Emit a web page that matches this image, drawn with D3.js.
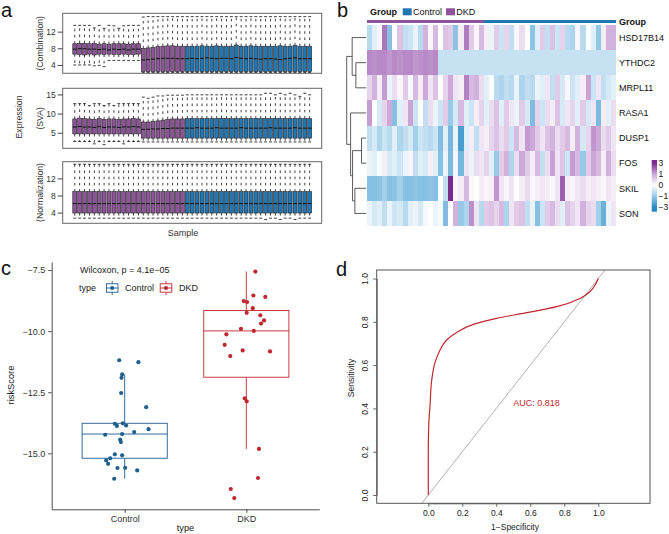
<!DOCTYPE html>
<html>
<head>
<meta charset="utf-8">
<script src="https://cdn.jsdelivr.net/npm/d3@7/dist/d3.min.js"></script>
<style>
html,body{margin:0;padding:0;background:#fff;}
svg{display:block;font-family:"Liberation Sans",Arial,Helvetica,sans-serif;}
</style>
</head>
<body>
<svg id="fig" width="669" height="534"></svg>
<script>
// ====================== DATA ======================
// ---- Panel a: per-sample boxplot statistics (23 DKD samples, then 26 Control samples)
const nDKD = 23, nControl = 26;

const combUpper = [13.5,13.5,13.5,13.5,12.9,13.5,12.8,13.5,13.4,12.8,13.4,13.5,13.5,13.5,
  15.5,15.6,15.6,15.6,15.6,15.6,15.6,15.6,15.6,
  15.6,15.6,15.6,15.6,15.6,15.6,15.6,15.6,15.6,15.6,15.6,15.6,15.6,
  15.6,15.6,15.6,15.6,15.6,15.6,15.6,15.6,15.6,15.6,15.6,15.6,15.6];
const combQ3 = [9.1,9.2,9.2,9.1,9.2,9.0,9.1,9.0,9.1,9.1,9.1,9.0,9.1,9.1,
  8.0,8.1,8.2,8.4,8.5,8.6,8.6,8.5,8.5,
  8.5,8.5,8.5,8.6,8.5,8.5,8.6,8.5,8.5,8.5,8.8,8.5,8.5,
  8.6,8.5,8.5,8.5,8.5,8.5,8.6,8.5,8.5,8.7,8.5,8.5,8.5];
const combMed = [7.8,7.9,7.9,7.8,7.8,7.7,7.8,7.6,7.8,7.7,7.8,7.6,7.8,7.8,
  5.2,5.3,5.4,5.5,5.6,5.6,5.6,5.5,5.5,
  5.5,5.6,5.5,5.6,5.7,5.6,5.5,5.6,5.6,5.5,5.8,5.6,5.5,
  5.6,5.5,5.4,5.5,5.5,5.4,5.3,5.5,5.6,5.7,5.5,5.5,5.5];
const combQ1 = [6.6,6.5,6.4,6.6,6.4,6.6,6.5,6.6,6.5,6.5,6.6,6.5,6.5,6.6,
  2.4,2.4,2.4,2.4,2.4,2.4,2.4,2.4,2.4,
  2.4,2.4,2.4,2.4,2.4,2.4,2.4,2.4,2.4,2.4,2.4,2.4,2.4,
  2.4,2.4,2.4,2.4,2.4,2.4,2.4,2.4,2.4,2.4,2.4,2.4,2.4];
const combLower = [4.0,4.0,4.0,4.0,3.8,3.9,3.6,5.1,5.1,5.1,5.1,5.1,5.1,5.1,
  2.2,2.2,2.2,2.2,2.2,2.2,2.2,2.2,2.2,
  2.2,2.2,2.2,2.2,2.2,2.2,2.2,2.2,2.2,2.2,2.2,2.2,2.2,
  2.2,2.2,2.2,2.2,2.2,2.2,2.2,2.2,2.2,2.2,2.2,2.2,2.2];

const svaUpper = [12.6,12.6,12.6,12.1,12.6,12.6,12.1,12.6,12.1,12.6,12.6,12.6,12.6,12.6,
  14.3,14.0,14.3,14.6,14.6,14.8,14.8,14.8,14.8,
  14.9,14.9,14.9,14.9,14.9,14.9,14.9,14.9,14.9,14.9,14.9,14.9,14.9,
  14.9,14.9,14.9,15.3,15.3,14.9,15.3,14.9,15.3,14.9,14.5,15.3,14.9];
const svaQ3 = [8.6,8.8,8.7,8.6,8.5,8.7,8.5,8.6,8.6,8.5,8.6,8.6,8.7,8.6,
  7.8,7.8,7.9,8.1,8.3,8.5,8.6,8.6,8.6,
  8.7,8.7,8.7,8.7,8.7,8.7,8.7,8.8,8.7,8.7,8.7,8.7,8.7,
  8.7,8.7,8.7,8.7,8.7,8.8,8.7,8.7,8.7,8.7,8.8,8.7,8.7];
const svaMed = [6.5,6.6,6.5,6.5,6.4,6.6,6.4,6.5,6.5,6.4,6.5,6.5,6.6,6.5,
  5.9,5.9,6.0,6.0,6.1,6.1,6.2,6.2,6.2,
  6.2,6.2,6.3,6.2,6.2,6.2,6.3,6.2,6.2,6.2,6.2,6.3,6.2,
  6.2,6.2,6.2,6.2,6.3,6.2,6.2,6.2,6.2,6.3,6.2,6.2,6.2];
const svaQ1 = [4.7,4.7,4.7,4.7,4.7,4.7,4.7,4.7,4.7,4.7,4.7,4.7,4.7,4.7,
  3.6,3.6,3.6,3.6,3.6,3.6,3.6,3.6,3.6,
  3.6,3.6,3.6,3.6,3.6,3.6,3.6,3.6,3.6,3.6,3.6,3.6,3.6,
  3.6,3.6,3.6,3.6,3.6,3.6,3.6,3.6,3.6,3.6,3.6,3.6,3.6];
const svaLower = [2.7,2.7,2.7,2.7,2.1,2.7,1.9,2.7,2.7,2.7,2.1,2.7,2.7,2.7,
  2.6,2.6,2.6,2.6,2.6,2.6,2.6,2.6,2.6,
  2.6,2.6,2.6,2.6,2.6,2.6,2.6,2.6,2.6,2.6,2.6,2.6,2.6,
  2.6,2.6,2.6,2.6,2.6,2.6,2.6,2.6,2.6,2.6,2.6,2.6,2.6];

const normUpper = [15.3,15.3,15.3,15.3,15.3,15.3,15.3,15.3,15.3,15.3,15.3,15.3,15.3,15.3,
  15.3,15.3,15.3,15.3,15.3,15.3,15.3,15.3,15.3,
  15.3,15.3,15.3,15.3,15.3,15.3,15.3,15.3,15.3,15.3,15.3,15.3,15.3,
  15.3,15.3,15.3,15.3,15.3,15.3,15.3,15.3,15.3,15.3,15.3,15.3,15.3];
const normQ3 = [8.9,8.9,8.9,8.9,8.9,8.9,8.9,8.9,8.9,8.9,8.9,8.9,8.9,8.9,
  8.9,8.9,8.9,8.9,8.9,8.9,8.9,8.9,8.9,
  8.9,8.9,8.9,8.9,8.9,8.9,8.9,8.9,8.9,8.9,8.9,8.9,8.9,
  8.9,8.9,8.9,8.9,8.9,8.9,8.9,8.9,8.9,8.9,8.9,8.9,8.9];
const normMed = [6.1,6.1,6.1,6.1,6.1,6.1,6.1,6.1,6.1,6.1,6.1,6.1,6.1,6.1,
  6.1,6.1,6.1,6.1,6.1,6.1,6.1,6.1,6.1,
  6.1,6.1,6.1,6.1,6.1,6.1,6.1,6.1,6.1,6.1,6.1,6.1,6.1,
  6.1,6.1,6.1,6.1,6.1,6.1,6.1,6.1,6.1,6.1,6.1,6.1,6.1];
const normQ1 = [3.9,3.9,3.9,3.9,3.9,3.9,3.9,3.9,3.9,3.9,3.9,3.9,3.9,3.9,
  3.9,3.9,3.9,3.9,3.9,3.9,3.9,3.9,3.9,
  3.9,3.9,3.9,3.9,3.9,3.9,3.9,3.9,3.9,3.9,3.9,3.9,3.9,
  3.9,3.9,3.9,3.9,3.9,3.9,3.9,3.9,3.9,3.9,3.9,3.9,3.9];
const normLower = [2.7,2.7,2.7,2.7,2.7,2.7,2.7,2.7,2.7,2.7,2.7,2.7,2.7,2.7,
  2.7,2.7,2.7,2.7,2.7,2.7,2.7,2.7,2.7,
  2.7,2.7,2.7,2.7,2.7,2.7,2.7,2.7,2.7,2.7,2.7,2.7,2.7,
  2.7,2.7,2.7,2.4,2.7,2.7,2.4,2.7,2.7,2.4,2.7,2.7,2.7];

// ---- Panel b: heatmap (z-scores), 23 DKD columns then 26 Control columns
const genes = ["HSD17B14","YTHDC2","MRPL11","RASA1","DUSP1","FOS","SKIL","SON"];
const hHSD17B14 = [-0.7,-0.3,0.1,1.8,-1.3,0.0,0.7,-0.6,-0.5,-0.2,-0.7,0.9,0.1,0.8,0.0,0.7,0.6,-1.2,0.2,1.7,0.6,0.1,0.8,
  0.2,-0.2,0.6,-0.5,0.5,-0.6,0.1,0.4,0.0,-1.2,-0.3,0.6,-0.6,0.7,-0.5,0.5,-0.7,-0.8,0.1,-0.7,0.0,-0.3,-1.1,0.2,0.9,0.9];
const hYTHDC2 = [1.5,1.4,1.5,1.5,1.3,1.5,1.4,1.5,1.5,1.3,1.4,1.5,1.4,1.5,-0.55,-0.55,-0.55,-0.55,-0.55,-0.55,-0.55,-0.55,-0.55,
  -0.55,-0.55,-0.55,-0.55,-0.55,-0.55,-0.55,-0.55,-0.55,-0.55,-0.55,-0.55,-0.55,-0.55,-0.55,-0.55,-0.55,-0.55,-0.55,-0.55,-0.55,-0.55,-0.55,-0.55,-0.55,-0.55];
const hMRPL11 = [0.5,0.9,0.2,1.2,-0.2,0.4,0.1,0.6,-0.1,0.8,0.2,1.0,0.3,0.7,0.0,0.5,1.0,0.3,0.2,1.6,0.8,0.9,0.4,
  -0.3,0.0,-0.7,-0.8,-0.6,-0.7,-0.2,-0.8,-0.6,-0.7,-0.2,-0.3,0.3,-0.6,0.6,-0.4,0.1,-0.5,-0.3,0.2,1.1,-0.5,0.3,-0.6,-0.4,-0.3];
const hRASA1 = [1.2,0.0,-0.4,0.5,1.0,-1.3,-0.3,0.3,1.1,-0.5,0.0,-0.6,0.4,-0.2,-0.5,0.6,-1.0,-0.4,0.8,-0.3,-0.5,0.2,0.5,
  -0.3,0.4,0.7,-0.3,0.6,0.3,-0.2,0.6,-0.4,-1.4,0.5,-0.5,0.4,0.2,0.7,-0.4,0.3,0.5,-0.3,0.6,-0.4,0.3,-1.5,0.2,-0.3,0.4];
const hDUSP1 = [-0.6,-0.4,-0.8,-0.5,-0.7,-0.3,-0.8,-0.6,-0.4,-0.9,-0.5,-0.6,-0.7,-0.5,-1.4,-0.3,-1.6,-0.2,-2.4,-0.3,0.2,-0.6,0.3,
  0.2,0.5,0.7,0.4,0.6,-0.5,0.8,0.3,1.2,1.0,0.6,0.3,0.7,0.9,0.4,0.6,0.8,0.2,0.9,-0.4,0.5,1.3,1.0,0.4,0.6,0.3];
const hFOS = [-0.2,-0.3,-0.1,0.2,-0.4,-0.3,-0.5,-0.2,0.1,-0.6,-0.3,-0.4,0.2,-0.3,-1.3,-0.2,-1.5,0.1,-1.6,0.3,-0.2,0.4,0.3,
  0.5,-0.3,-1.0,0.6,0.9,-0.8,0.4,1.0,0.6,0.2,0.8,-0.6,0.4,1.1,0.3,0.7,-0.5,1.2,0.8,-1.0,0.6,1.0,0.8,0.2,0.9,0.4];
const hSKIL = [-1.3,-1.3,-1.2,-0.9,-1.3,-1.2,-0.9,-1.3,-1.3,-1.2,-1.3,-1.3,-1.2,-1.3,0.0,-0.6,3.0,0.1,0.2,0.8,0.1,0.0,0.2,
  0.1,0.2,1.3,0.3,0.1,0.3,0.0,0.2,0.4,0.1,0.2,0.3,0.2,0.1,0.3,2.2,0.2,0.1,0.3,0.4,0.2,0.3,0.2,0.1,0.3,0.2];
const hSON = [-0.2,-0.4,-0.3,-0.6,-0.2,-0.5,-0.4,-0.7,-0.3,-0.2,-0.4,-0.1,0.0,-0.2,-0.1,-1.4,0.0,0.9,-1.0,-0.8,1.4,0.3,-0.7,
  0.6,0.7,0.5,0.8,-0.8,0.3,0.6,0.7,-0.6,-0.2,-1.3,-0.5,0.6,0.8,0.4,-0.3,0.7,0.5,0.3,0.9,0.5,0.4,-0.9,-1.8,-0.2,0.3];
const heatRows = [hHSD17B14,hYTHDC2,hMRPL11,hRASA1,hDUSP1,hFOS,hSKIL,hSON];
const heatLegendTicks = [3,1,0,-1,-3];
// row dendrogram (merge heights, root = 10)
const rowDendro = {h:10, children:[
  {h:7.2, children:[{leaf:"HSD17B14"},{h:5.3, children:[{leaf:"YTHDC2"},{leaf:"MRPL11"}]}]},
  {h:8.0, children:[{leaf:"RASA1"},{h:7.0, children:[
      {h:2.4, children:[{leaf:"DUSP1"},{leaf:"FOS"}]},
      {h:5.8, children:[{leaf:"SKIL"},{leaf:"SON"}]}]}]}]};

// ---- Panel c: riskScore by type (with jitter offsets, in category units)
const riskControl = [-11.19,-11.27,-11.77,-11.91,-12.53,-13.11,-13.79,-13.88,-13.77,-13.86,-14.24,-14.21,-14.13,
  -14.01,-14.44,-14.54,-15.04,-15.08,-15.20,-15.29,-15.43,-15.60,-15.59,-15.70,-16.04];
const jitterControl = [-0.045,0.113,-0.021,-0.026,-0.029,0.177,-0.081,-0.064,-0.015,0.012,-0.160,-0.021,0.078,
  0.196,-0.037,-0.031,-0.081,-0.021,-0.119,-0.152,-0.136,-0.059,0.004,0.103,-0.086];
const riskDKD = [-7.56,-8.54,-8.60,-8.77,-8.81,-9.06,-9.25,-9.35,-9.56,-9.69,-9.91,-9.99,-10.13,-10.56,-10.79,
  -11.02,-10.83,-12.75,-12.87,-14.82,-16.01,-16.46,-16.83];
const jitterDKD = [0.074,0.058,0.156,-0.021,0.006,0.053,0.003,0.115,0.146,0.121,-0.044,0.061,-0.164,-0.178,-0.030,
  -0.132,0.195,-0.013,0.003,0.104,0.096,-0.128,-0.099];
const riskTicks = [-7.5,-10.0,-12.5,-15.0];
const pLabel = "Wilcoxon, p = 4.1e\u221205";

// ---- Panel d: smoothed ROC curve
const rocFPR = [0,0,0.003,0.010,0.020,0.039,0.069,0.108,0.167,0.265,0.402,0.579,0.755,0.892,0.951,0.985,1];
const rocTPR = [0,0.20,0.33,0.41,0.53,0.61,0.67,0.716,0.751,0.788,0.816,0.842,0.870,0.908,0.939,0.975,1];
const rocTicks = [0,0.2,0.4,0.6,0.8,1.0];
const aucLabel = "AUC: 0.818";

// ====================== DRAWING ======================
const svg = d3.select("#fig");
const PURPLE = "#8E5499", BLUE = "#2176B4";
const defs = svg.append("defs");

// panel letters
[["a",1,17],["b",337,17],["c",1,275],["d",336,276]].forEach(([t,x,y]) =>
  svg.append("text").attr("x",x).attr("y",y).attr("font-size",20).attr("fill","#111").text(t));

// ---------- Panel a ----------
const nS = nDKD + nControl;
const xA = d3.scaleLinear().domain([0.5 - 0.04*nS, nS + 0.5 + 0.04*nS]).range([62.7, 321.7]);
const unit = xA(1) - xA(0);
function boxPanel(id, y0, y1, domain, ticks, title, up, q3, med, q1, lo) {
  const y = d3.scaleLinear().domain(domain).range([y1, y0]);
  const g = svg.append("g");
  defs.append("clipPath").attr("id", id).append("rect")
    .attr("x", xA.range()[0]).attr("y", y0).attr("width", xA.range()[1]-xA.range()[0]).attr("height", y1-y0);
  const data = d3.range(nS).map(i => ({i, up:up[i], q3:q3[i], med:med[i], q1:q1[i], lo:lo[i], grp: i < nDKD ? "DKD":"Control"}));
  const gb = g.append("g").attr("clip-path", `url(#${id})`);
  const bw = 0.8*unit, cw = 0.6*unit;
  const s = gb.selectAll("g.s").data(data).join("g");
  s.append("line").attr("x1", d=>xA(d.i+1)).attr("x2", d=>xA(d.i+1))
    .attr("y1", d=>y(d.q3)).attr("y2", d=>y(d.up)).attr("stroke","#111").attr("stroke-width",0.8).attr("stroke-dasharray","2.6,3.6");
  s.append("line").attr("x1", d=>xA(d.i+1)).attr("x2", d=>xA(d.i+1))
    .attr("y1", d=>y(d.q1)).attr("y2", d=>y(d.lo)).attr("stroke","#111").attr("stroke-width",0.8).attr("stroke-dasharray","2.6,3.6");
  s.append("line").attr("x1", d=>xA(d.i+1)-cw/2).attr("x2", d=>xA(d.i+1)+cw/2)
    .attr("y1", d=>y(d.up)).attr("y2", d=>y(d.up)).attr("stroke","#111").attr("stroke-width",0.8);
  s.append("line").attr("x1", d=>xA(d.i+1)-cw/2).attr("x2", d=>xA(d.i+1)+cw/2)
    .attr("y1", d=>y(d.lo)).attr("y2", d=>y(d.lo)).attr("stroke","#111").attr("stroke-width",0.8);
  s.append("rect").attr("x", d=>xA(d.i+1)-bw/2).attr("width", bw)
    .attr("y", d=>y(d.q3)).attr("height", d=>y(d.q1)-y(d.q3))
    .attr("fill", d=> d.grp==="DKD" ? PURPLE : BLUE).attr("stroke","#222").attr("stroke-width",0.6);
  s.append("line").attr("x1", d=>xA(d.i+1)-bw/2).attr("x2", d=>xA(d.i+1)+bw/2)
    .attr("y1", d=>y(d.med)).attr("y2", d=>y(d.med)).attr("stroke","#111").attr("stroke-width",1);
  g.append("rect").attr("x", xA.range()[0]).attr("y", y0).attr("width", xA.range()[1]-xA.range()[0]).attr("height", y1-y0)
    .attr("fill","none").attr("stroke","#666").attr("stroke-width",1);
  const ax = g.append("g").attr("transform", `translate(${xA.range()[0]},0)`)
    .call(d3.axisLeft(y).tickValues(ticks).tickSize(5).tickPadding(2).tickSizeOuter(0));
  ax.select(".domain").remove();
  ax.selectAll("line").attr("stroke","#444");
  ax.selectAll("text").attr("font-size",8.5).attr("fill","#333").attr("font-family",null);
  g.append("text").attr("transform", `translate(42.5,${(y0+y1)/2}) rotate(-90)`)
    .attr("text-anchor","middle").attr("font-size",8.7).attr("fill","#333").text(title);
}
boxPanel("clipA1", 13.3, 73.3, [2.0, 16.4], [4,8,12], "(Combination)", combUpper, combQ3, combMed, combQ1, combLower);
boxPanel("clipA2", 88.3, 148.3, [0.94, 16.6], [5,10,15], "(SVA)", svaUpper, svaQ3, svaMed, svaQ1, svaLower);
boxPanel("clipA3", 161.7, 223.3, [1.5, 15.9], [4,8,12], "(Normalization)", normUpper, normQ3, normMed, normQ1, normLower);
svg.append("text").attr("transform","translate(21.5,117) rotate(-90)").attr("text-anchor","middle")
  .attr("font-size",8.7).attr("fill","#333").text("Expression");
svg.append("text").attr("x",183).attr("y",236).attr("text-anchor","middle")
  .attr("font-size",9).attr("fill","#333").text("Sample");

// ---------- Panel b ----------
const cols = d3.range(nS);
const xH = d3.scaleBand().domain(cols).range([367, 616]);
const yH = d3.scaleBand().domain(genes).range([25, 226]);
const heatColor = d3.scaleLinear().domain([-3,-1,0,1,3])
  .range(["#2A89C4","#98CAE8","#FFFFFF","#CDA9D9","#7A2A8F"]).clamp(true);
const gH = svg.append("g");
const cells = [];
heatRows.forEach((row, r) => row.forEach((v, c) => cells.push({gene: genes[r], c, v})));
gH.selectAll("rect.cell").data(cells).join("rect")
  .attr("x", d=>xH(d.c)).attr("y", d=>yH(d.gene))
  .attr("width", xH.bandwidth()+0.3).attr("height", yH.bandwidth()+0.3)
  .attr("fill", d=>heatColor(d.v)).attr("shape-rendering","crispEdges");
// group annotation bar
gH.selectAll("rect.ann").data(cols).join("rect")
  .attr("x", d=>xH(d)).attr("y",20).attr("width", xH.bandwidth()+0.3).attr("height",3.3)
  .attr("fill", d=> d < nDKD ? PURPLE : BLUE).attr("shape-rendering","crispEdges");
gH.append("text").attr("x",619).attr("y",25).attr("font-size",9).attr("font-weight","bold").attr("fill","#111").text("Group");
gH.selectAll("text.gene").data(genes).join("text")
  .attr("x",619).attr("y", d=>yH(d)+yH.bandwidth()/2+3.2).attr("font-size",9).attr("fill","#111").text(d=>d);
// top legend
gH.append("text").attr("x",370).attr("y",15).attr("font-size",9).attr("font-weight","bold").attr("fill","#111").text("Group");
[["Control",BLUE,402.7],["DKD",PURPLE,446]].forEach(([t,c,x])=>{
  gH.append("rect").attr("x",x).attr("y",8.3).attr("width",9).attr("height",7).attr("fill",c);
  gH.append("text").attr("x",x+10.3).attr("y",15.3).attr("font-size",9).attr("fill","#111").text(t);
});
// dendrogram
const dx = d3.scaleLinear().domain([0,10]).range([366.2, 346.7]);
function layoutDendro(n){
  if (n.leaf){ n.y = yH(n.leaf)+yH.bandwidth()/2; n.x = dx(0); return; }
  n.children.forEach(layoutDendro);
  n.y = (n.children[0].y + n.children[1].y)/2; n.x = dx(n.h);
}
layoutDendro(rowDendro);
const dSegs = [];
(function collect(n){
  if (n.leaf) return;
  dSegs.push([n.x, n.children[0].y, n.x, n.children[1].y]);
  n.children.forEach(ch => { dSegs.push([n.x, ch.y, ch.x, ch.y]); collect(ch); });
})(rowDendro);
gH.selectAll("line.dendro").data(dSegs).join("line")
  .attr("x1",d=>d[0]).attr("y1",d=>d[1]).attr("x2",d=>d[2]).attr("y2",d=>d[3])
  .attr("stroke","#333").attr("stroke-width",0.8);
// color legend
const lgY = d3.scalePoint().domain(heatLegendTicks).range([163.3, 207.3]);
const grad = defs.append("linearGradient").attr("id","hmgrad").attr("x1",0).attr("y1",0).attr("x2",0).attr("y2",1);
const barTop = 160, barBot = 211.7;
heatLegendTicks.forEach(t => grad.append("stop")
  .attr("offset", (lgY(t)-barTop)/(barBot-barTop)).attr("stop-color", heatColor(t)));
gH.append("rect").attr("x",651.7).attr("y",barTop).attr("width",5.3).attr("height",barBot-barTop).attr("fill","url(#hmgrad)");
gH.selectAll("text.lg").data(heatLegendTicks).join("text")
  .attr("x",658.5).attr("y",d=>lgY(d)+3).attr("font-size",8.5).attr("fill","#111")
  .text(d => d < 0 ? "\u2212" + Math.abs(d) : String(d));

// ---------- Panel c ----------
const CTRL = "#1F5F8E", DKDC = "#C0272D";
const xC = d3.scalePoint().domain(["Control","DKD"]).range([51.7, 319.3]).padding(0.6);
const yC = d3.scaleLinear().domain([-17.29, -7.17]).range([509.3, 262]);
const stepC = xC.step();
const gC = svg.append("g");
function boxStats(vals){
  const s = vals.slice().sort(d3.ascending);
  const q1 = d3.quantileSorted(s,0.25), med = d3.quantileSorted(s,0.5), q3 = d3.quantileSorted(s,0.75);
  const iqr = q3-q1;
  const lo = d3.min(s.filter(v => v >= q1-1.5*iqr)), hi = d3.max(s.filter(v => v <= q3+1.5*iqr));
  return {q1, med, q3, lo, hi};
}
[["Control", riskControl, jitterControl, CTRL], ["DKD", riskDKD, jitterDKD, DKDC]].forEach(([cat, vals, jit, col]) => {
  const st = boxStats(vals), cx = xC(cat), bw = 0.7*stepC;
  gC.append("line").attr("x1",cx).attr("x2",cx).attr("y1",yC(st.q3)).attr("y2",yC(st.hi)).attr("stroke",col).attr("stroke-width",0.9);
  gC.append("line").attr("x1",cx).attr("x2",cx).attr("y1",yC(st.q1)).attr("y2",yC(st.lo)).attr("stroke",col).attr("stroke-width",0.9);
  gC.append("rect").attr("x",cx-bw/2).attr("width",bw).attr("y",yC(st.q3)).attr("height",yC(st.q1)-yC(st.q3))
    .attr("fill","none").attr("stroke",col).attr("stroke-width",0.9);
  gC.append("line").attr("x1",cx-bw/2).attr("x2",cx+bw/2).attr("y1",yC(st.med)).attr("y2",yC(st.med)).attr("stroke",col).attr("stroke-width",0.9);
  gC.selectAll(null).data(vals.map((v,i)=>({v, j:jit[i]}))).join("circle")
    .attr("cx", d=>cx + d.j*stepC).attr("cy", d=>yC(d.v)).attr("r",2.1).attr("fill",col);
});
const axCy = gC.append("g").attr("transform","translate(51.7,0)")
  .call(d3.axisLeft(yC).tickValues(riskTicks).tickFormat(d3.format(".1f")).tickSize(3.5).tickPadding(3).tickSizeOuter(0));
const axCx = gC.append("g").attr("transform","translate(0,509.3)")
  .call(d3.axisBottom(xC).tickSize(3.5).tickPadding(2.5).tickSizeOuter(0));
[axCy, axCx].forEach(a => {
  a.selectAll("path,line").attr("stroke","#222").attr("stroke-width",0.8);
  a.selectAll("text").attr("font-size",9).attr("fill","#333").attr("font-family",null);
});
gC.append("text").attr("transform","translate(14,385) rotate(-90)").attr("text-anchor","middle")
  .attr("font-size",9.3).attr("fill","#222").text("riskScore");
gC.append("text").attr("x",185.5).attr("y",530.5).attr("text-anchor","middle").attr("font-size",9.3).attr("fill","#222").text("type");
gC.append("text").attr("x",80).attr("y",273.3).attr("font-size",9).attr("fill","#222").text(pLabel);
gC.append("text").attr("x",79).attr("y",291).attr("font-size",9).attr("fill","#222").text("type");
[["Control",CTRL,112.2,125],["DKD",DKDC,166,179]].forEach(([t,c,kx,tx])=>{
  const k = gC.append("g");
  k.append("line").attr("x1",kx).attr("x2",kx).attr("y1",281).attr("y2",295).attr("stroke",c).attr("stroke-width",0.9);
  k.append("rect").attr("x",kx-5.8).attr("y",283.8).attr("width",11.6).attr("height",8.4).attr("fill","#fff").attr("stroke",c).attr("stroke-width",0.9);
  k.append("line").attr("x1",kx-5.8).attr("x2",kx+5.8).attr("y1",288).attr("y2",288).attr("stroke",c).attr("stroke-width",0.9);
  k.append("circle").attr("cx",kx).attr("cy",288).attr("r",2.1).attr("fill",c);
  gC.append("text").attr("x",tx).attr("y",291).attr("font-size",9).attr("fill","#222").text(t);
});

// ---------- Panel d ----------
const xD = d3.scaleLinear().domain([0,1]).range([428.3, 598.3]);
const yD = d3.scaleLinear().domain([0,1]).range([495, 278.5]);
const fD = {x0:376.7, x1:650, y0:270, y1:503.3};
const gD = svg.append("g");
defs.append("clipPath").attr("id","clipD").append("rect")
  .attr("x",fD.x0).attr("y",fD.y0).attr("width",fD.x1-fD.x0).attr("height",fD.y1-fD.y0);
const gDc = gD.append("g").attr("clip-path","url(#clipD)");
gDc.append("line").attr("x1",xD(-0.5)).attr("y1",yD(-0.5)).attr("x2",xD(1.5)).attr("y2",yD(1.5))
  .attr("stroke","#A8A8A8").attr("stroke-width",0.9);
const rocPts = rocFPR.map((f,i)=>[f, rocTPR[i]]).reverse();
gDc.append("path").attr("d", d3.line().x(d=>xD(d[0])).y(d=>yD(d[1])).curve(d3.curveMonotoneY)(rocPts))
  .attr("fill","none").attr("stroke","#C0272D").attr("stroke-width",1.2);
gD.append("rect").attr("x",fD.x0).attr("y",fD.y0).attr("width",fD.x1-fD.x0).attr("height",fD.y1-fD.y0)
  .attr("fill","none").attr("stroke","#555").attr("stroke-width",1);
const axDy = gD.append("g").attr("transform",`translate(${fD.x0},0)`)
  .call(d3.axisLeft(yD).tickValues(rocTicks).tickFormat(d3.format(".1f")).tickSize(3.5).tickSizeOuter(0));
axDy.selectAll("text").attr("x",0).attr("dy",null).attr("y",-8.5).attr("transform","rotate(-90)").attr("text-anchor","middle");
const axDx = gD.append("g").attr("transform",`translate(0,${fD.y1})`)
  .call(d3.axisBottom(xD).tickValues(rocTicks).tickFormat(d3.format(".1f")).tickSize(3.5).tickPadding(3).tickSizeOuter(0));
[axDy, axDx].forEach(a => {
  a.selectAll("path,line").attr("stroke","#555").attr("stroke-width",0.9);
  a.selectAll("text").attr("font-size",8.5).attr("fill","#222").attr("font-family",null);
});
gD.append("text").attr("transform","translate(354,378) rotate(-90)").attr("text-anchor","middle")
  .attr("font-size",8.5).attr("fill","#222").text("Sensitivity");
gD.append("text").attr("x",515).attr("y",530.3).attr("text-anchor","middle").attr("font-size",8.5).attr("fill","#222").text("1\u2212Specificity");
gD.append("text").attr("x",513.3).attr("y",406).attr("font-size",9).attr("fill","#C0272D").text(aucLabel);
</script>
</body>
</html>
